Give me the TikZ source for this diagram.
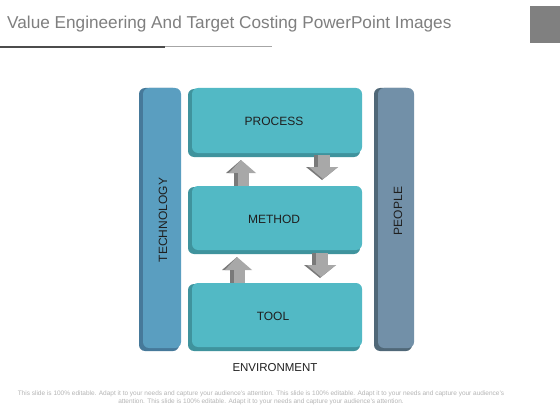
\documentclass[tikz,border=0pt]{standalone}
\usepackage{fontspec}
\setmainfont{Liberation Sans}
\definecolor{techc}{HTML}{5A9EC0}
\definecolor{techd}{HTML}{46799A}
\definecolor{boxc}{HTML}{52B9C5}
\definecolor{boxd}{HTML}{3F939D}
\definecolor{peoc}{HTML}{7290A8}
\definecolor{peod}{HTML}{506878}
\definecolor{arrc}{HTML}{A8A8A8}
\definecolor{arrd}{HTML}{7A7A7A}
\definecolor{titc}{HTML}{7F7F7F}
\definecolor{footc}{HTML}{B5B5B5}
\begin{document}
\begin{tikzpicture}[x=1pt,y=-1pt,
  lbl/.style={font=\fontsize{12}{14}\selectfont, text=black!88},
  rc/.style={rounded corners=6pt}]
\useasboundingbox (0,0) rectangle (560,420);
\fill[white] (0,0) rectangle (560,420);
% title
\node[anchor=base west, inner sep=0, text=titc, font=\fontsize{17.2}{20}\selectfont] (title) at (7,29) {Value Engineering And Target Costing PowerPoint Images};
\fill[black!70] (0,46) rectangle (165,48);
\fill[black!35] (165,46.5) rectangle (272,47.5);
\fill[black!50] (530,6) rectangle (560,43);
% technology bar
\fill[techd, rc] (139,88) rectangle (179,351);
\fill[techc, rc] (143,88) rectangle (181,348);
\node[lbl, rotate=90] (tech) at (163,220) {TECHNOLOGY};
% people bar
\fill[peod, rc] (374,88) rectangle (412,351);
\fill[peoc, rc] (378,88) rectangle (414,348);
\node[lbl, rotate=90] (people) at (398,211) {PEOPLE};
% boxes
\foreach \t/\b/\n/\s/\cx in {88/157/process/PROCESS/274, 186/254/method/METHOD/274, 283/351/tool/TOOL/273}{
  \fill[boxd, rc] (188,\t+1) rectangle (360,\b);
  \fill[boxc, rc] (192,\t) rectangle (362,\b-4);
  \node[lbl] (\n) at (\cx,{(\t+\b)/2-1}) {\s};
}
% up arrows
\foreach \x/\t/\b in {241/160/186, 237/257/283}{
  \fill[arrd] (\x-15,\t+13) -- (\x,\t) -- (\x,\t+13) -- cycle;
  \fill[arrc] (\x+15,\t+13) -- (\x,\t) -- (\x-12,\t+13) -- cycle;
  \fill[arrd] (\x-7,\t+13) rectangle (\x-3,\b);
  \fill[arrc] (\x-3,\t+13) rectangle (\x+8,\b);
}
% down arrows
\foreach \x/\t/\b in {322/155/180, 320/253/278}{
  \fill[arrd] (\x-8,\t) rectangle (\x-4,\b-13);
  \fill[arrc] (\x-4,\t) rectangle (\x+8,\b-13);
  \fill[arrd] (\x-16,\b-13) -- (\x+16,\b-13) -- (\x,\b) -- cycle;
  \fill[arrc] (\x-13,\b-13) -- (\x+16,\b-13) -- (\x+1,\b-1) -- cycle;
}
\node[font=\fontsize{11.5}{13}\selectfont, text=black!88] (env) at (275,368) {ENVIRONMENT};
% footer
\node[text=footc, font=\fontsize{6.5}{8}\selectfont, align=center] (foot) at (261,398) {This slide is 100\% editable. Adapt it to your needs and capture your audience's attention. This slide is 100\% editable. Adapt it to your needs and capture your audience's\\attention. This slide is 100\% editable. Adapt it to your needs and capture your audience's attention.};
\end{tikzpicture}
\end{document}
